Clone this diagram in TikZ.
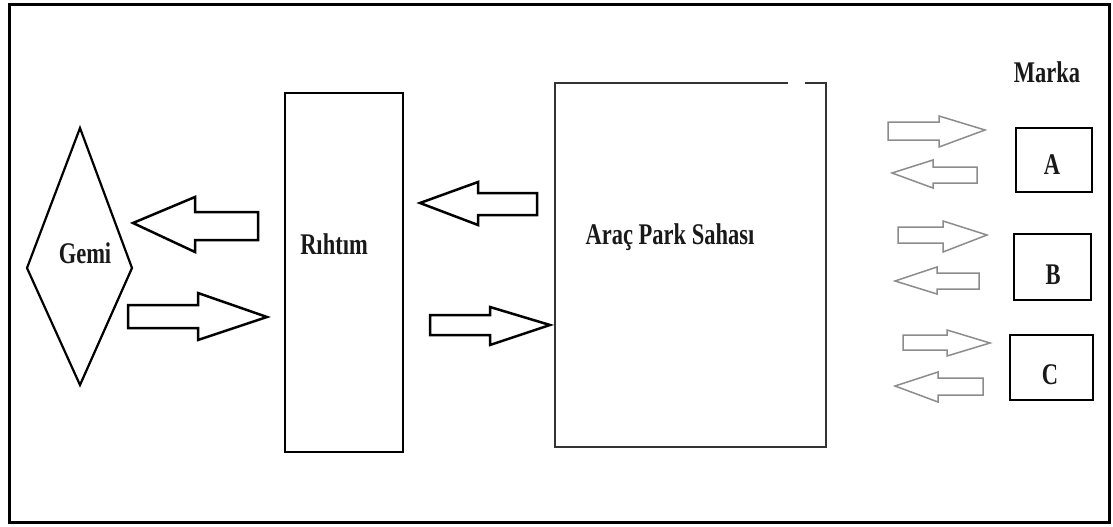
\documentclass[tikz,border=0pt]{standalone}
\usepackage{fontspec}
\setmainfont{Liberation Serif}
\usetikzlibrary{positioning}
\tikzset{
  lbl/.style={font=\fontsize{30}{32}\selectfont\bfseries, inner sep=0pt, text=black!90},
  frame/.style={draw=black, line width=3pt},
  boxline/.style={draw=black, line width=2.8pt},
  parkline/.style={draw=black!80, line width=2.3pt},
  bigarrow/.style={draw=black, line width=2.5pt, fill=white, line join=miter},
  smallarrow/.style={draw=black!45, line width=1.5pt, fill=white, line join=miter},
}
\newcommand{\cmp}[1]{\scalebox{0.75}[1]{#1}}
\begin{document}
\begin{tikzpicture}[x=1pt,y=-1pt]
\useasboundingbox (0,0) rectangle (1113,527);
% outer frame
\draw[frame] (9,5) rectangle (1109,522);
% Gemi diamond
\draw[line width=2.2pt, line join=miter] (27,268) -- (80,128) -- (132,268) -- (80,385) -- cycle;
\node[lbl] (gemi) at (85,253) {\cmp{Gemi}};
% Rihtim box
\draw[boxline] (285,93) rectangle (403,452);
\node[lbl] (rihtim) at (334,244) {\cmp{Rıhtım}};
% Arac Park Sahasi box with gap in top line
\draw[parkline] (788,83) -- (555,83) -- (555,447) -- (826,447) -- (826,83) -- (805,83);
\node[lbl] (park) at (670,237) {\cmp{Araç Park Sahası}};
% Marka boxes
\node[lbl] (marka) at (1047,72) {\cmp{Marka}};
\draw[boxline] (1016,128) rectangle (1092,192);
\node[lbl] (a) at (1052,165) {\cmp{A}};
\draw[boxline] (1014,234) rectangle (1091,300);
\node[lbl] (b) at (1053,275) {\cmp{B}};
\draw[boxline] (1010,335) rectangle (1093,400);
\node[lbl] (c) at (1050,375) {\cmp{C}};
% big block arrows
\draw[bigarrow] (258,212) -- (195,212) -- (195,197) -- (133,223) -- (195,252) -- (195,240) -- (258,240) -- cycle;
\draw[bigarrow] (128,305) -- (198,305) -- (198,293) -- (267,317) -- (198,340) -- (198,328) -- (128,328) -- cycle;
\draw[bigarrow] (537,193) -- (478,193) -- (478,182) -- (420,203) -- (478,225) -- (478,215) -- (537,215) -- cycle;
\draw[bigarrow] (430,315) -- (490,315) -- (490,307) -- (550,325) -- (490,345) -- (490,335) -- (430,335) -- cycle;
% small arrows
\draw[smallarrow] (888,122) -- (939,122) -- (939,116) -- (985,130) -- (939,147) -- (939,140) -- (888,140) -- cycle;
\draw[smallarrow] (977,167) -- (933,167) -- (933,160) -- (892,173) -- (933,188) -- (933,183) -- (977,183) -- cycle;
\draw[smallarrow] (898,227) -- (943,227) -- (943,221) -- (987,235) -- (943,252) -- (943,243) -- (898,243) -- cycle;
\draw[smallarrow] (979,273) -- (937,273) -- (937,267) -- (895,281) -- (937,294) -- (937,289) -- (979,289) -- cycle;
\draw[smallarrow] (903,335) -- (947,335) -- (947,330) -- (990,343) -- (947,356) -- (947,350) -- (903,350) -- cycle;
\draw[smallarrow] (983,378) -- (938,378) -- (938,372) -- (895,386) -- (938,402) -- (938,395) -- (983,395) -- cycle;
\end{tikzpicture}
\end{document}
